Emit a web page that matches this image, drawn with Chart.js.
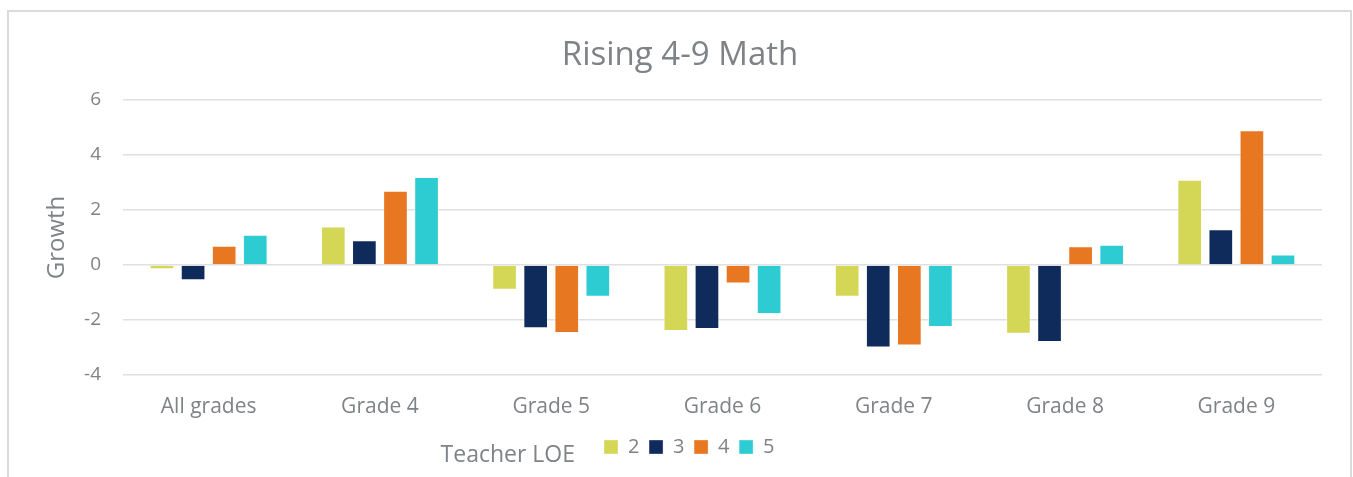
<!DOCTYPE html>
<html>
<head>
<meta charset="utf-8">
<script src="https://cdn.jsdelivr.net/npm/chart.js@4"></script>
<style>
  html, body { margin: 0; padding: 0; background: #ffffff; }
  #wrap { position: relative; width: 1353px; height: 477px; }
</style>
</head>
<body>
<div id="wrap"><canvas id="c"></canvas></div>
<script>
const categories = ['All grades', 'Grade 4', 'Grade 5', 'Grade 6', 'Grade 7', 'Grade 8', 'Grade 9'];
const seriesNames = ['2', '3', '4', '5'];
const loe2 = [-0.15, 1.4, -0.9, -2.4, -1.15, -2.5, 3.1];
const loe3 = [-0.55, 0.9, -2.3, -2.33, -3.0, -2.8, 1.3];
const loe4 = [0.7, 2.7, -2.47, -0.67, -2.93, 0.68, 4.9];
const loe5 = [1.1, 3.2, -1.15, -1.78, -2.25, 0.74, 0.38];
const yTicks = [-4, -2, 0, 2, 4, 6];
const colors = ['#D4D756', '#0F2B5B', '#E87722', '#2DCCD3'];

const textColor = '#7f8286';
const fontFamily = '"Open Sans", "Liberation Sans", sans-serif';

const framePlugin = {
  id: 'frame',
  beforeDraw(chart) {
    const ctx = chart.ctx;
    ctx.save();
    ctx.strokeStyle = '#dadada';
    ctx.lineWidth = 2;
    ctx.beginPath();
    ctx.moveTo(8, 477);
    ctx.lineTo(8, 11);
    ctx.lineTo(1351, 11);
    ctx.lineTo(1351, 477);
    ctx.stroke();
    ctx.restore();
  },
  afterLayout(chart) {
    const lg = chart.legend;
    if (lg) {
      const pad = lg.options.labels.padding;
      const w = lg.width, h = lg.height;
      lg.left = 604 - pad;
      lg.right = lg.left + w;
      lg.top = 427.4;
      lg.bottom = lg.top + h;
    }
    const tb = chart.titleBlock;
    if (tb) {
      tb.left += 19;
      tb.right += 19;
    }
  },
  afterDraw(chart) {
    const lg = chart.legend;
    if (!lg || !lg.legendHitBoxes || !lg.legendHitBoxes.length) return;
    const hb = lg.legendHitBoxes[0];
    const ctx = chart.ctx;
    ctx.save();
    ctx.fillStyle = textColor;
    ctx.font = '23px ' + fontFamily;
    ctx.textAlign = 'right';
    ctx.textBaseline = 'alphabetic';
    ctx.fillText('Teacher LOE', hb.left - 29, 462);
    ctx.restore();
  }
};

const seriesData = [loe2, loe3, loe4, loe5];
const datasets = seriesNames.map((name, i) => ({
  label: name,
  data: seriesData[i],
  backgroundColor: colors[i],
  borderColor: 'rgba(255,255,255,0.35)',
  borderWidth: 1,
  categoryPercentage: 0.726,
  barPercentage: 0.794
}));

new Chart(document.getElementById('c'), {
  type: 'bar',
  data: { labels: categories, datasets },
  plugins: [framePlugin],
  options: {
    responsive: true,
    maintainAspectRatio: false,
    animation: false,
    layout: { padding: { left: 0, right: 31, top: 0, bottom: 0 } },
    plugins: {
      title: {
        display: true,
        text: 'Rising 4-9 Math',
        color: textColor,
        font: { family: fontFamily, size: 33, weight: 'normal', lineHeight: 1.2 },
        padding: { top: 36.2, bottom: 24.2 }
      },
      legend: {
        display: true,
        position: 'bottom',
        align: 'start',
        labels: {
          color: textColor,
          font: { family: fontFamily, size: 20 },
          boxWidth: 14,
          boxHeight: 14,
          padding: 9.6
        }
      },
      tooltip: { enabled: false }
    },
    scales: {
      x: {
        grid: { display: false, drawTicks: false },
        border: { display: false },
        ticks: {
          color: textColor,
          font: { family: fontFamily, size: 21 },
          padding: 19,
          maxRotation: 0
        },
        afterFit(s) { s.height = 62.4; }
      },
      y: {
        min: -4,
        max: 6,
        afterBuildTicks(s) { s.ticks = yTicks.map(v => ({ value: v })); },
        grid: { color: '#e0e0e0', lineWidth: 1.5, drawTicks: false },
        border: { display: false },
        ticks: {
          color: textColor,
          font: { family: fontFamily, size: 19 },
          padding: 22
        },
        title: {
          display: true,
          text: 'Growth',
          color: textColor,
          font: { family: fontFamily, size: 24 },
          padding: { top: 43, bottom: 0 }
        },
        afterFit(s) { s.width = 123; }
      }
    }
  }
});
</script>
</body>
</html>
